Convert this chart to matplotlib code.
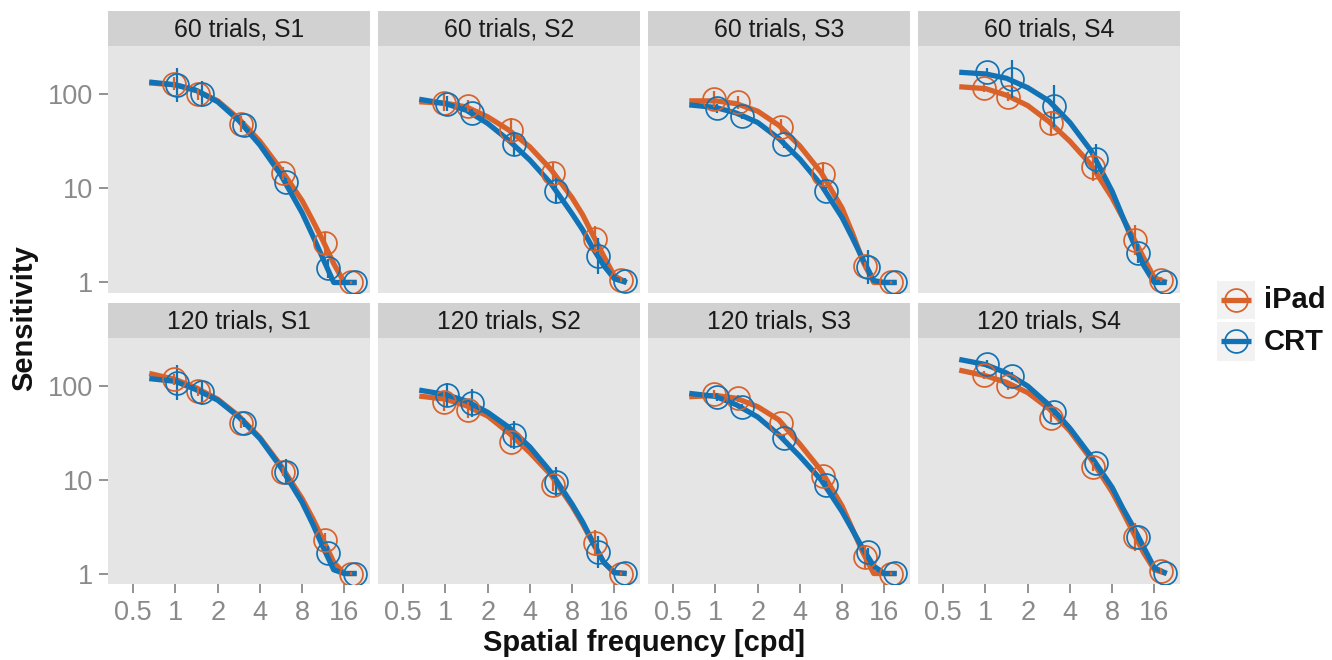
import numpy as np
import matplotlib
matplotlib.use("Agg")
import matplotlib.pyplot as plt

plt.rcParams['font.family'] = ['Liberation Sans', 'DejaVu Sans']

# ---------------- data ----------------
panel_titles_60 = ["60 trials, S1", "60 trials, S2", "60 trials, S3", "60 trials, S4"]
panel_titles_120 = ["120 trials, S1", "120 trials, S2", "120 trials, S3", "120 trials, S4"]
series_names = ["iPad", "CRT"]

freqs = [1, 1.5, 3, 6, 12, 18.5]                       # cpd
fit_freqs = [0.65, 1, 1.41, 2, 2.83, 4, 5.66, 8, 9.51, 11.3, 13.45, 16, 19.6]

x_ticks = [0.5, 1, 2, 4, 8, 16]
x_tick_labels = ["0.5", "1", "2", "4", "8", "16"]
y_ticks = [1, 10, 100]
y_tick_labels = ["1", "10", "100"]

# measured sensitivity (log10), one row per subject S1..S4
ipad_log10_60 = [
    [2.11, 2.00, 1.684, 1.16, 0.415, 0.00],
    [1.91, 1.876, 1.62, 1.167, 0.457, 0.03],
    [1.95, 1.915, 1.656, 1.152, 0.177, 0.00],
    [2.064, 1.975, 1.691, 1.23, 0.45, 0.03],
]
crt_log10_60 = [
    [2.10, 2.00, 1.674, 1.064, 0.149, 0.00],
    [1.897, 1.798, 1.472, 0.975, 0.28, 0.02],
    [1.85, 1.773, 1.472, 0.975, 0.167, 0.00],
    [2.241, 2.163, 1.876, 1.309, 0.309, 0.01],
]
ipad_log10_120 = [
    [2.071, 1.947, 1.602, 1.087, 0.359, 0.00],
    [1.833, 1.744, 1.407, 0.945, 0.323, 0.00],
    [1.915, 1.869, 1.602, 1.041, 0.181, 0.00],
    [2.117, 2.004, 1.663, 1.14, 0.394, 0.03],
]
crt_log10_120 = [
    [2.036, 1.933, 1.609, 1.087, 0.217, 0.00],
    [1.904, 1.815, 1.478, 0.980, 0.234, 0.01],
    [1.886, 1.773, 1.442, 0.945, 0.234, 0.01],
    [2.234, 2.107, 1.726, 1.176, 0.387, 0.01],
]

# error bar half-widths (log10 units)
ipad_err_60 = [
    [0.07, 0.06, 0.08, 0.07, 0.12, 0.02],
    [0.09, 0.06, 0.13, 0.10, 0.14, 0.03],
    [0.085, 0.07, 0.08, 0.13, 0.04, 0.02],
    [0.04, 0.05, 0.13, 0.15, 0.16, 0.03],
]
crt_err_60 = [
    [0.183, 0.138, 0.04, 0.05, 0.10, 0.02],
    [0.08, 0.05, 0.13, 0.14, 0.19, 0.03],
    [0.05, 0.04, 0.04, 0.04, 0.18, 0.02],
    [0.04, 0.20, 0.22, 0.16, 0.10, 0.02],
]
ipad_err_120 = [
    [0.06, 0.05, 0.05, 0.05, 0.07, 0.02],
    [0.10, 0.09, 0.07, 0.06, 0.14, 0.02],
    [0.04, 0.04, 0.04, 0.04, 0.12, 0.02],
    [0.04, 0.045, 0.05, 0.05, 0.15, 0.03],
]
crt_err_120 = [
    [0.185, 0.137, 0.05, 0.13, 0.08, 0.02],
    [0.125, 0.15, 0.15, 0.16, 0.17, 0.02],
    [0.045, 0.04, 0.04, 0.04, 0.04, 0.02],
    [0.04, 0.04, 0.04, 0.04, 0.04, 0.02],
]

# fitted curves (log10 sensitivity at fit_freqs)
ipad_fit_60 = [
    [2.12, 2.10, 2.04, 1.93, 1.74, 1.50, 1.20, 0.87, 0.66, 0.44, 0.20, 0.0, 0.0],
    [1.92, 1.905, 1.865, 1.76, 1.62, 1.44, 1.20, 0.90, 0.72, 0.50, 0.28, 0.07, 0.0],
    [1.93, 1.93, 1.90, 1.82, 1.67, 1.45, 1.17, 0.79, 0.52, 0.22, 0.0, 0.0, 0.0],
    [2.08, 2.06, 1.99, 1.88, 1.71, 1.50, 1.25, 0.90, 0.69, 0.48, 0.26, 0.05, 0.0],
]
crt_fit_60 = [
    [2.13, 2.10, 2.04, 1.92, 1.72, 1.46, 1.14, 0.74, 0.50, 0.25, 0.0, 0.0, 0.0],
    [1.947, 1.90, 1.83, 1.69, 1.51, 1.30, 1.05, 0.73, 0.56, 0.36, 0.18, 0.04, 0.0],
    [1.887, 1.86, 1.80, 1.70, 1.53, 1.31, 1.04, 0.69, 0.47, 0.24, 0.02, 0.0, 0.0],
    [2.234, 2.216, 2.17, 2.07, 1.93, 1.70, 1.40, 0.97, 0.70, 0.43, 0.18, 0.0, 0.0],
]
ipad_fit_120 = [
    [2.135, 2.07, 1.98, 1.86, 1.68, 1.45, 1.15, 0.80, 0.59, 0.36, 0.12, 0.0, 0.0],
    [1.893, 1.86, 1.79, 1.68, 1.50, 1.29, 1.05, 0.72, 0.53, 0.32, 0.12, 0.01, 0.0],
    [1.886, 1.90, 1.87, 1.78, 1.64, 1.38, 1.10, 0.72, 0.47, 0.22, 0.0, 0.0, 0.0],
    [2.17, 2.11, 2.04, 1.93, 1.76, 1.52, 1.22, 0.87, 0.66, 0.44, 0.22, 0.04, 0.0],
]
crt_fit_120 = [
    [2.08, 2.05, 1.96, 1.85, 1.67, 1.44, 1.13, 0.76, 0.53, 0.28, 0.04, 0.0, 0.0],
    [1.957, 1.91, 1.84, 1.72, 1.56, 1.35, 1.08, 0.74, 0.55, 0.33, 0.12, 0.01, 0.0],
    [1.922, 1.89, 1.80, 1.67, 1.48, 1.25, 1.00, 0.66, 0.46, 0.26, 0.08, 0.0, 0.0],
    [2.284, 2.23, 2.14, 2.00, 1.80, 1.55, 1.25, 0.92, 0.70, 0.50, 0.28, 0.06, 0.0],
]

# ---------------- style ----------------
W, H = 1332, 660
C_IPAD = "#D9622B"
C_CRT = "#1172B5"
PANEL_BG = "#E5E5E5"
STRIP_BG = "#D1D1D1"
TICK_C = "#8A8A8A"
DODGE = {"iPad": 2 ** -0.04, "CRT": 2 ** 0.035}

col_x = [108.3, 378.3, 648.3, 918.3]
pan_w = 261.7
rows = [  # (strip_top, panel_top, panel_bottom)
    (10.5, 45.7, 293.3),
    (302.7, 337.7, 584.3),
]
XLIM = (2 ** -1.592, 2 ** 4.609)
YLIM = (10 ** -0.115, 10 ** 2.516)

fig = plt.figure(figsize=(W / 100, H / 100), dpi=100)


def fx(x):
    return x / W


def fy(y):
    return 1 - y / H


data_rows = [
    (panel_titles_60, ipad_log10_60, crt_log10_60, ipad_err_60, crt_err_60, ipad_fit_60, crt_fit_60),
    (panel_titles_120, ipad_log10_120, crt_log10_120, ipad_err_120, crt_err_120, ipad_fit_120, crt_fit_120),
]

for r, (st, pt, pb) in enumerate(rows):
    titles, ip, cr, ipe, cre, ipf, crf = data_rows[r]
    for c in range(4):
        x0 = col_x[c]
        ax = fig.add_axes([fx(x0), fy(pb), pan_w / W, (pb - pt) / H])
        ax.set_facecolor(PANEL_BG)
        for s in ax.spines.values():
            s.set_visible(False)
        ax.set_xscale("log")
        ax.set_yscale("log")
        ax.set_xlim(*XLIM)
        ax.set_ylim(*YLIM)
        ax.minorticks_off()
        ax.set_xticks(x_ticks)
        ax.set_yticks(y_ticks)
        ax.tick_params(axis="both", colors=TICK_C, length=6.5, width=1.3,
                       labelsize=19.5, labelcolor=TICK_C, pad=4.5)
        if c == 0:
            ax.set_yticklabels(y_tick_labels)
        else:
            ax.tick_params(axis="y", length=0, labelleft=False)
        if r == 1:
            ax.set_xticklabels(x_tick_labels)
        else:
            ax.tick_params(axis="x", length=0, labelbottom=False)

        series = [
            ("iPad", C_IPAD, ip[c], ipe[c], ipf[c]),
            ("CRT", C_CRT, cr[c], cre[c], crf[c]),
        ]
        # fitted curves
        for name, col, vals, errs, fit in series:
            ax.plot(fit_freqs, 10 ** np.array(fit), color=col, lw=3.8,
                    solid_capstyle="butt", solid_joinstyle="round", zorder=2)
        # error bars
        for name, col, vals, errs, fit in series:
            xs = np.array(freqs) * DODGE[name]
            v = np.array(vals)
            e = np.array(errs)
            ax.vlines(xs, 10 ** (v - e), 10 ** (v + e), color=col, lw=1.6, zorder=3)
        # points
        for name, col, vals, errs, fit in series:
            xs = np.array(freqs) * DODGE[name]
            ax.plot(xs, 10 ** np.array(vals), ls="none", marker="o", ms=16.5,
                    mfc="none", mec=col, mew=1.25, zorder=4)

        # strip
        sax = fig.add_axes([fx(x0), fy(pt), pan_w / W, (pt - st) / H])
        sax.set_facecolor(STRIP_BG)
        for s in sax.spines.values():
            s.set_visible(False)
        sax.set_xticks([])
        sax.set_yticks([])
        sax.text(0.5, 0.47, titles[c], ha="center", va="center", fontsize=17.8,
                 color="#1A1A1A", transform=sax.transAxes)

# axis titles
fig.text(fx(644), fy(643), "Spatial frequency [cpd]", ha="center", va="center",
         fontsize=21, fontweight="bold", color="#111111")
fig.text(fx(24), fy(318), "Sensitivity", ha="center", va="center", rotation=90,
         fontsize=21, fontweight="bold", color="#111111")

# legend
leg_items = [("iPad", C_IPAD, 280.5), ("CRT", C_CRT, 322.0)]
for name, col, ytop in leg_items:
    kax = fig.add_axes([fx(1216.7), fy(ytop + 38.5), 38.5 / W, 38.5 / H])
    kax.set_facecolor("#F2F2F2")
    for s in kax.spines.values():
        s.set_visible(False)
    kax.set_xticks([])
    kax.set_yticks([])
    kax.set_xlim(0, 1)
    kax.set_ylim(0, 1)
    kax.plot([0.1, 0.9], [0.5, 0.5], color=col, lw=3.8, solid_capstyle="butt")
    kax.plot([0.5], [0.5], ls="none", marker="o", ms=16.5, mfc="none", mec=col, mew=1.25)
    fig.text(fx(1264), fy(ytop + 19.5), name, ha="left", va="center",
             fontsize=21, fontweight="bold", color="#111111")

fig.savefig("out.png", dpi=100)
